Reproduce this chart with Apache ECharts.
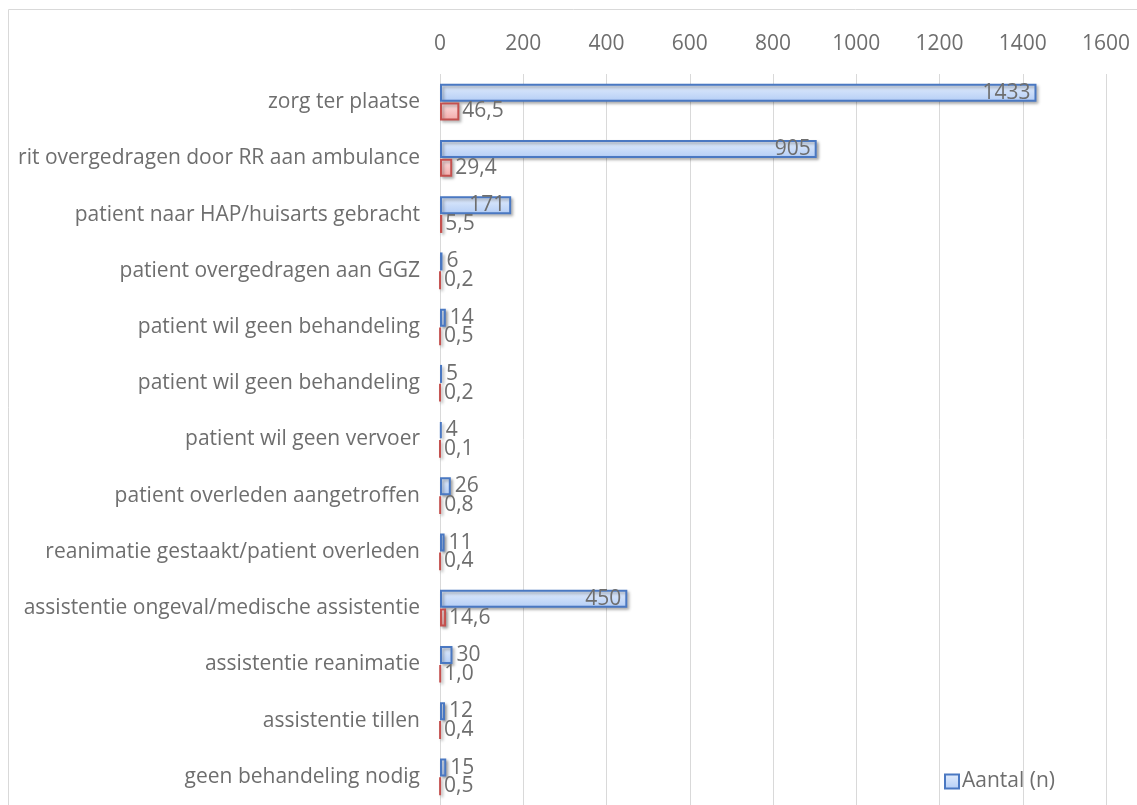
<!DOCTYPE html>
<html>
<head>
<meta charset="utf-8">
<script src="https://cdn.jsdelivr.net/npm/echarts@6/dist/echarts.min.js"></script>
<style>
  html, body { margin: 0; padding: 0; background: #fff; }
  #chart { width: 1137px; height: 805px; }
</style>
</head>
<body>
<div id="chart"></div>
<script>
const categories = [
  'zorg ter plaatse',
  'rit overgedragen door RR aan ambulance',
  'patient naar HAP/huisarts gebracht',
  'patient overgedragen aan GGZ',
  'patient wil geen behandeling',
  'patient wil geen behandeling',
  'patient wil geen vervoer',
  'patient overleden aangetroffen',
  'reanimatie gestaakt/patient overleden',
  'assistentie ongeval/medische assistentie',
  'assistentie reanimatie',
  'assistentie tillen',
  'geen behandeling nodig'
]
const aantal = [1433, 905, 171, 6, 14, 5, 4, 26, 11, 450, 30, 12, 15]
const percentage = [46.5, 29.4, 5.5, 0.2, 0.5, 0.2, 0.1, 0.8, 0.4, 14.6, 1.0, 0.4, 0.5]
const xTicks = [0, 200, 400, 600, 800, 1000, 1200, 1400, 1600]

const font = 'Open Sans'
const fs = 21
const textColor = '#6e6e6e'

const chart = echarts.init(document.getElementById('chart'))

chart.setOption({
  animation: false,
  textStyle: { fontFamily: font },
  graphic: [{
    type: 'rect',
    shape: { x: 8.5, y: 9.5, width: 1140, height: 820 },
    style: { fill: 'none', stroke: '#d9d9d9', lineWidth: 1 }
  }],
  legend: {
    data: ['Aantal (n)'],
    left: 939,
    top: 766,
    itemWidth: 14,
    itemHeight: 14,
    itemGap: 4,
    icon: 'rect',
    textStyle: { fontFamily: font, fontSize: fs, color: textColor, padding: [0, 0, 0, -2] }
  },
  grid: { left: 440, right: 31, top: 74, bottom: -6, containLabel: false },
  xAxis: {
    type: 'value',
    position: 'top',
    min: xTicks[0],
    max: xTicks[xTicks.length - 1],
    interval: 200,
    axisLine: { show: false },
    axisTick: { show: false },
    axisLabel: {
      fontFamily: font, fontSize: fs, color: textColor, margin: 19,
      formatter: v => String(v)
    },
    splitLine: { lineStyle: { color: '#d9d9d9', width: 1 } }
  },
  yAxis: {
    type: 'category',
    data: categories,
    inverse: true,
    axisLine: { show: false },
    axisTick: { show: false },
    axisLabel: { fontFamily: font, fontSize: fs, color: textColor, margin: 20 }
  },
  series: [
    {
      name: 'Aantal (n)',
      type: 'bar',
      barWidth: 18,
      barGap: '4%',
      data: aantal.map(v => ({
        value: v,
        label: v > 100
          ? { position: 'insideRight', distance: 6 }
          : { position: 'right', distance: 4 }
      })),
      itemStyle: {
        color: new echarts.graphic.LinearGradient(0, 0, 0, 1, [
          { offset: 0, color: '#e3edfc' },
          { offset: 1, color: '#b3cdf6' }
        ]),
        borderColor: '#4a78c2',
        borderWidth: 2,
        shadowColor: 'rgba(0,0,0,0.3)',
        shadowBlur: 3,
        shadowOffsetX: 2,
        shadowOffsetY: 2
      },
      label: { show: true, fontFamily: font, fontSize: fs, color: textColor }
    },
    {
      name: 'Percentage (%)',
      type: 'bar',
      barWidth: 18,
      data: percentage,
      itemStyle: {
        color: new echarts.graphic.LinearGradient(0, 0, 0, 1, [
          { offset: 0, color: '#fde3e3' },
          { offset: 1, color: '#f3a9a8' }
        ]),
        borderColor: '#c4504e',
        borderWidth: 2,
        shadowColor: 'rgba(0,0,0,0.3)',
        shadowBlur: 3,
        shadowOffsetX: 2,
        shadowOffsetY: 2
      },
      label: {
        show: true,
        position: 'right',
        distance: 3,
        fontFamily: font,
        fontSize: fs,
        color: textColor,
        formatter: p => p.value.toFixed(1).replace('.', ',')
      }
    }
  ]
})
</script>
</body>
</html>
